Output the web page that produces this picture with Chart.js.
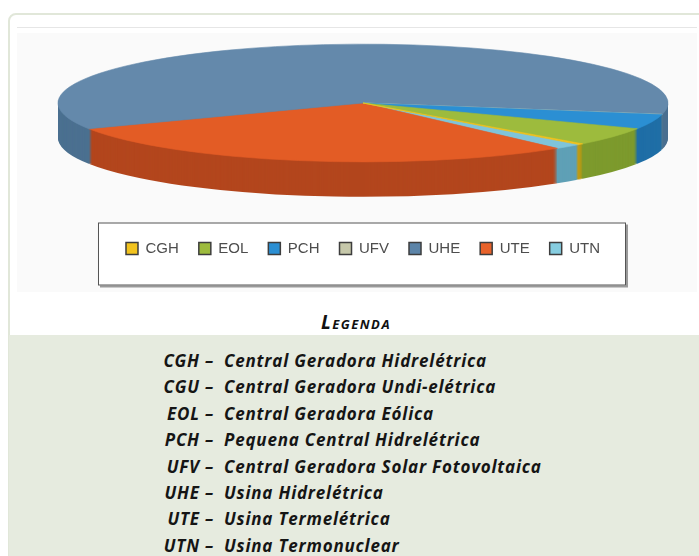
<!DOCTYPE html>
<html lang="pt-BR">
<head>
<meta charset="utf-8">
<script src="https://cdn.jsdelivr.net/npm/chart.js@4.4.1/dist/chart.umd.min.js"></script>
<style>
  html, body { margin: 0; padding: 0; }
  body { width: 699px; height: 556px; overflow: hidden; position: relative; background: #fff; font-family: 'Open Sans', Lato, sans-serif; }
  .moldura { position: absolute; left: 8px; top: 13px; width: 730px; height: 620px; border: 2px solid #e1e7d9; border-radius: 8px; box-sizing: border-box; }
  .fio { position: absolute; left: 17px; top: 27px; width: 680px; height: 1px; background: #e6e6e6; }
  .figura { position: absolute; left: 17px; top: 33px; width: 680px; height: 259px; background: #fafafa; }
  #graficoPotencia { position: absolute; left: 0; top: -15px; }
  .titulo { position: absolute; left: 9px; right: 0; top: 311px; padding-left: 4px; text-align: center; font-style: italic; font-weight: 700; font-size: 19px; letter-spacing: 1.5px; line-height: 22px; font-variant: small-caps; color: #111; }
  .painel { position: absolute; left: 9px; right: 0; top: 335px; bottom: 0; background: #e6ebdf; }
  .siglas { position: absolute; left: 0; top: 348px; font-style: italic; font-weight: 700; font-size: 17px; letter-spacing: 0.8px; line-height: 26.4px; color: #151515; }
  .siglas span.sigla { display: inline-block; width: 214px; text-align: right; }
  .siglas span.desc { margin-left: 10px; }
</style>
</head>
<body>
<div class="moldura"></div>
<div class="fio"></div>
<div class="figura"></div>
<canvas id="graficoPotencia" width="699" height="311"></canvas>
<div class="painel"></div>
<div class="titulo">Legenda</div>
<div class="siglas" id="siglas"></div>

<script>
// Participação por tipo de empreendimento (%)
const categorias = ['CGH', 'EOL', 'PCH', 'UFV', 'UHE', 'UTE', 'UTN'];
const participacao = [0.3, 5.0, 4.1, 0.01, 60.3, 28.8, 1.5];

const siglas = ['CGH', 'CGU', 'EOL', 'PCH', 'UFV', 'UHE', 'UTE', 'UTN'];
const descricoes = [
    'Central Geradora Hidrelétrica',
    'Central Geradora Undi-elétrica',
    'Central Geradora Eólica',
    'Pequena Central Hidrelétrica',
    'Central Geradora Solar Fotovoltaica',
    'Usina Hidrelétrica',
    'Usina Termelétrica',
    'Usina Termonuclear'
];

// cores (topo, lateral e legenda)
const coresTopo = ['#f2c31e', '#9dbb3d', '#2b8fd3', '#c6c8aa', '#6489ab', '#e35c25', '#7fc4d9'];
const coresLado = ['#c29a12', '#7d9a2d', '#1f6ea6', '#9fa184', '#4b7090', '#b3461d', '#5fa0b6'];
const coresLegenda = ['#f2c31e', '#9dbb3d', '#2b8fd3', '#c6c8aa', '#5c84a8', '#e8622a', '#86cde0'];

const INCLINACAO = 0.193; // achatamento vertical do disco
const ESPESSURA = 35;     // altura da lateral em px

document.addEventListener('DOMContentLoaded', () => {
    // lista de siglas
    const lista = document.getElementById('siglas');
    siglas.forEach((s, i) => {
        const linha = document.createElement('div');
        linha.innerHTML = '<span class="sigla">' + s + ' –</span><span class="desc">' + descricoes[i] + '</span>';
        lista.appendChild(linha);
    });

    // o Excel desenha no sentido anti-horário: invertemos a ordem
    const ordem = categorias.map((_, i) => i).reverse();

    const pizza3d = {
        id: 'pizza3d',
        beforeDatasetsDraw(chart) {
            const ctx = chart.ctx;
            const arcos = chart.getDatasetMeta(0).data;
            if (!arcos.length) return;
            const cx = arcos[0].x, cy = arcos[0].y;
            ctx.save();
            // lateral: cópias empilhadas mais escuras
            for (let d = ESPESSURA; d >= 1; d--) {
                ctx.save();
                ctx.translate(cx, cy + d);
                ctx.scale(1, INCLINACAO);
                arcos.forEach((arco, j) => {
                    ctx.beginPath();
                    ctx.moveTo(0, 0);
                    ctx.arc(0, 0, arco.outerRadius, arco.startAngle, arco.endAngle);
                    ctx.closePath();
                    ctx.fillStyle = coresLado[ordem[j]];
                    ctx.fill();
                });
                ctx.restore();
            }
            // topo achatado
            ctx.translate(cx, cy);
            ctx.scale(1, INCLINACAO);
            ctx.translate(-cx, -cy);
        },
        afterDatasetsDraw(chart) {
            chart.ctx.restore();
        }
    };

    const caixaLegenda = {
        id: 'caixaLegenda',
        beforeDraw(chart) {
            const lg = chart.legend;
            if (!lg || !lg.lineWidths) return;
            const pad = lg.options.labels.padding;
            const x0 = (lg.left + pad + lg.right - lg.lineWidths[0]) / 2;
            const x1 = x0 + lg.lineWidths[0] - pad;
            const meio = lg.top + pad + 15 / 2;
            const esq = x0 - 28, dir = x1 + 26, topo = meio - 26, base = meio + 37;
            const ctx = chart.ctx;
            ctx.save();
            ctx.fillStyle = '#9a9a9a';
            ctx.fillRect(esq + 2, topo + 2, dir - esq, base - topo);
            ctx.fillStyle = '#ffffff';
            ctx.fillRect(esq, topo, dir - esq, base - topo);
            ctx.strokeStyle = '#555555';
            ctx.lineWidth = 1;
            ctx.strokeRect(esq + 0.5, topo + 0.5, dir - esq - 1, base - topo - 1);
            ctx.restore();
        }
    };

    new Chart(document.getElementById('graficoPotencia'), {
        type: 'pie',
        data: {
            labels: ordem.map(i => categorias[i]),
            datasets: [{
                data: ordem.map(i => participacao[i]),
                backgroundColor: ordem.map(i => coresTopo[i]),
                borderColor: ordem.map(i => coresTopo[i]),
                borderWidth: 1,
                radius: 305,
                rotation: 135,
                clip: false
            }]
        },
        options: {
            responsive: false,
            animation: false,
            events: [],
            layout: {
                padding: { left: 27, right: 0, top: 0, bottom: 30 }
            },
            plugins: {
                tooltip: { enabled: false },
                legend: {
                    position: 'bottom',
                    reverse: true,
                    labels: {
                        boxWidth: 12,
                        boxHeight: 12,
                        padding: 20,
                        color: '#4d4d4d',
                        font: { family: 'Liberation Sans', size: 15 },
                        generateLabels(chart) {
                            const itens = Chart.overrides.pie.plugins.legend.labels.generateLabels(chart);
                            return itens.map(item => Object.assign(item, {
                                fillStyle: coresLegenda[categorias.indexOf(item.text)],
                                strokeStyle: '#3d3d3d',
                                lineWidth: 1.5
                            }));
                        }
                    }
                }
            }
        },
        plugins: [pizza3d, caixaLegenda]
    });
});
</script>
</body>
</html>
